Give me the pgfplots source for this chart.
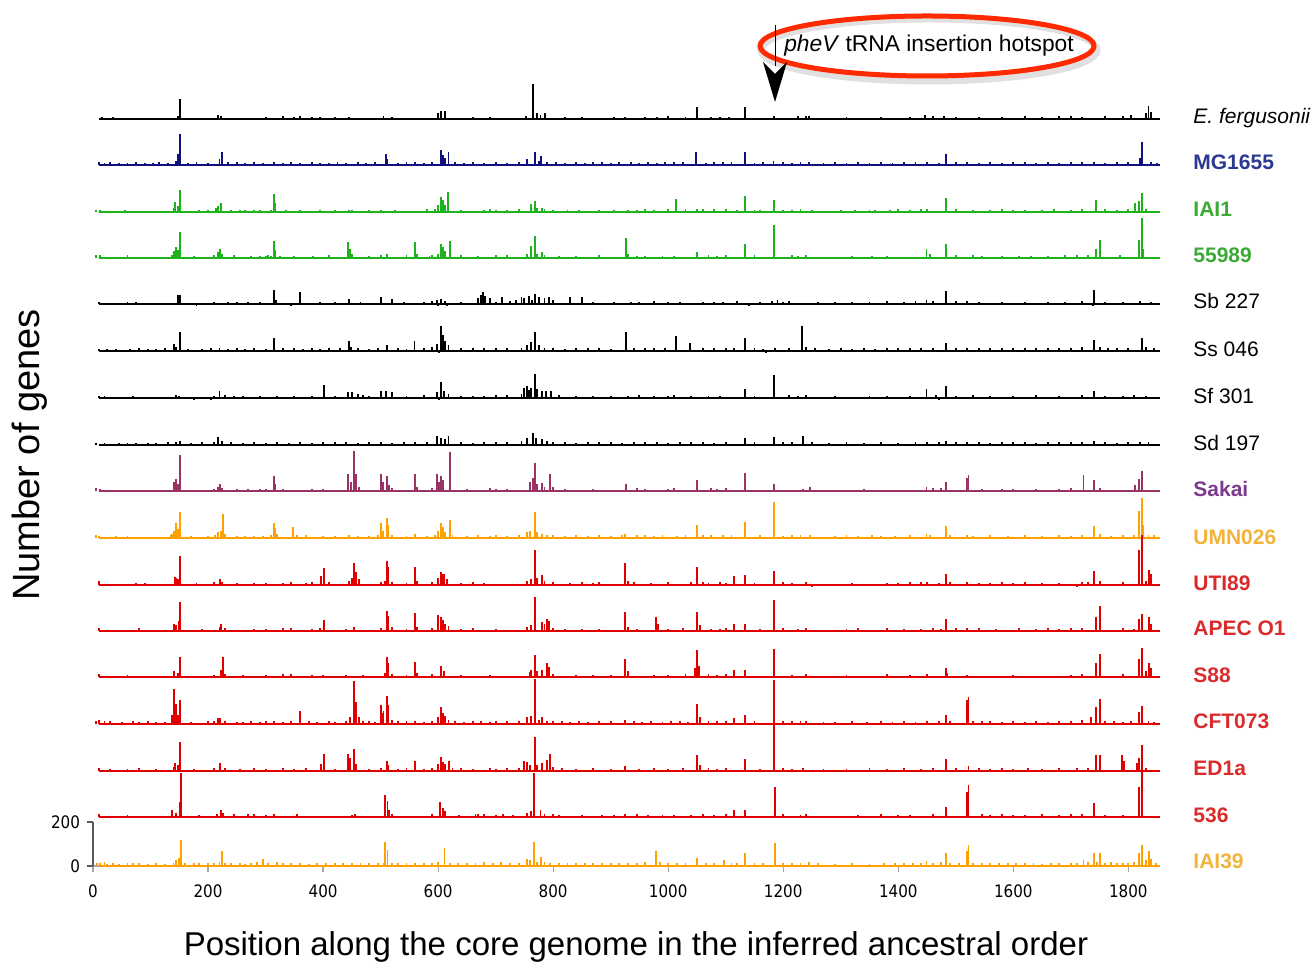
\documentclass[border=0pt]{standalone}
\usepackage{fontspec}
\setmainfont{Liberation Sans}
\newfontfamily\tickfont{DejaVu Sans}[FakeStretch=0.88]
\usepackage{pgfplots}
\pgfplotsset{compat=1.18}
\usetikzlibrary{calc}
\definecolor{cnavy}{HTML}{10107F}
\definecolor{cgreen}{HTML}{1DB31D}
\definecolor{cpurple}{HTML}{993366}
\definecolor{corange}{HTML}{FFA200}
\definecolor{cred}{HTML}{E00000}
\definecolor{lnavy}{HTML}{2B3990}
\definecolor{lgreen}{HTML}{3AAA35}
\definecolor{lpurple}{HTML}{7B3A8C}
\definecolor{lgold}{HTML}{F2B33D}
\definecolor{lred}{HTML}{D92B2B}
\definecolor{ellred}{HTML}{FF2A00}
\pgfplotsset{
  spk/.style={ycomb, mark=none, line width=0.95pt},
  base/.style={mark=none, line width=1pt},
}
\newcommand{\row}[3]{%
  \addplot[#1, base, yshift=#2] coordinates {(10,0) (1855,0)};
  \addplot[#1, spk, yshift=#2] coordinates {#3};}
\begin{document}
\begin{tikzpicture}
\begin{axis}[
  scale only axis, width=533.5pt, height=22pt,
  xmin=0, xmax=1855, ymin=0, ymax=200,
  axis x line=bottom, axis y line=left,
  x axis line style={-, draw=gray!70, line width=0.6pt},
  y axis line style={-, draw=black!65, line width=0.6pt},
  xtick={0,200,...,1800}, ytick={0,200},
  tick align=outside, major tick length=3pt,
  xtick style={draw=gray!70, line width=0.6pt},
  ytick style={draw=black!65, line width=0.6pt},
  tick label style={font=\tickfont\fontsize{8.6}{10}\selectfont},
  /pgf/number format/assume math mode=true,
  /pgf/number format/1000 sep={},
  xticklabel style={yshift=-3pt},
  clip=false,
]
\coordinate (O) at (axis cs:0,0);
% 16 E. fergusonii
\row{black}{373.5pt}{(15,8)(35,8)(148,15)(152,90)(217,20)(222,12)(300,10)(330,12)(350,10)(360,12)(380,10)(395,10)(420,10)(445,8)(505,12)(520,10)(600,25)(605,36)(612,36)(660,10)(690,10)(752,12)(765,157)(772,25)(778,20)(786,26)(820,10)(850,10)(905,10)(925,10)(960,10)(980,10)(1000,12)(1030,10)(1050,54)(1075,10)(1090,10)(1105,10)(1134,54)(1184,15)(1225,12)(1240,15)(1245,12)(1310,10)(1370,10)(1420,10)(1447,20)(1460,15)(1480,12)(1500,10)(1540,10)(1580,10)(1620,12)(1650,10)(1680,12)(1700,12)(1720,10)(1760,12)(1790,15)(1805,20)(1830,25)(1835,60)(1840,30)}
% 15 MG1655
\row{cnavy}{350.5pt}{(10,12)(20,10)(30,12)(45,10)(60,10)(75,12)(90,10)(105,10)(115,12)(130,10)(145,20)(148,50)(152,140)(165,10)(180,12)(200,10)(220,25)(224,58)(235,12)(250,15)(265,10)(280,12)(295,10)(315,12)(330,10)(345,12)(360,10)(380,12)(395,10)(410,10)(425,12)(440,10)(460,12)(475,10)(490,12)(510,50)(512,25)(530,10)(545,12)(560,15)(575,10)(590,12)(605,66)(608,45)(612,30)(618,58)(630,12)(645,10)(660,12)(680,10)(700,12)(720,10)(740,15)(755,25)(768,58)(775,20)(779,40)(790,15)(805,12)(820,10)(840,12)(855,10)(870,12)(885,15)(900,10)(915,12)(935,15)(950,10)(965,12)(980,10)(995,12)(1010,15)(1025,12)(1049,57)(1065,10)(1080,12)(1095,15)(1110,12)(1134,60)(1150,10)(1165,12)(1183,18)(1200,12)(1215,10)(1230,15)(1245,12)(1270,10)(1290,12)(1310,10)(1330,12)(1350,10)(1370,12)(1390,10)(1410,12)(1430,15)(1450,12)(1470,10)(1483,50)(1500,12)(1520,15)(1540,10)(1560,12)(1580,10)(1600,12)(1620,15)(1640,10)(1660,12)(1680,10)(1700,12)(1720,15)(1740,12)(1760,10)(1780,12)(1800,15)(1820,30)(1824,105)(1840,12)(1850,10)}
% 14 IAI1
\row{cgreen}{327pt}{(5,10)(12,10)(55,10)(140,20)(143,44)(148,25)(152,99)(185,10)(200,10)(214,20)(218,25)(222,39)(240,10)(255,10)(265,10)(280,10)(290,10)(310,10)(314,80)(317,40)(335,8)(360,8)(395,8)(420,10)(445,10)(450,10)(480,8)(500,10)(525,8)(580,12)(595,15)(600,30)(605,70)(608,55)(612,30)(617,91)(640,10)(680,10)(690,12)(700,10)(720,10)(740,15)(762,35)(768,52)(772,20)(780,20)(785,15)(800,10)(825,10)(845,10)(880,10)(905,10)(930,10)(945,10)(960,15)(975,10)(1000,12)(1014,60)(1030,12)(1050,12)(1060,15)(1080,12)(1100,15)(1120,10)(1134,73)(1150,10)(1160,10)(1184,54)(1200,10)(1215,10)(1230,12)(1250,10)(1300,10)(1325,10)(1350,10)(1360,10)(1385,10)(1400,12)(1420,10)(1440,15)(1450,15)(1483,62)(1500,15)(1530,10)(1560,10)(1580,12)(1600,10)(1620,10)(1650,10)(1670,12)(1700,10)(1720,15)(1743,54)(1760,12)(1780,10)(1800,12)(1812,40)(1818,50)(1824,86)(1830,15)}
% 13 55989
\row{cgreen}{304pt}{(5,12)(12,12)(60,12)(138,15)(141,30)(145,50)(148,35)(152,116)(175,10)(210,12)(218,25)(221,39)(224,20)(245,12)(275,10)(290,10)(300,10)(305,12)(310,10)(314,79)(317,35)(325,10)(350,10)(383,10)(410,12)(443,71)(447,40)(450,20)(480,10)(500,15)(511,20)(545,12)(560,71)(563,20)(585,10)(590,12)(600,20)(605,63)(608,50)(612,30)(620,79)(640,12)(670,10)(700,12)(720,15)(755,20)(762,55)(768,99)(772,20)(780,27)(785,15)(810,10)(840,10)(880,12)(927,89)(930,20)(945,10)(960,10)(990,10)(1010,10)(1050,27)(1070,12)(1085,10)(1100,12)(1134,62)(1150,12)(1184,150)(1215,12)(1225,10)(1240,15)(1320,10)(1355,10)(1380,10)(1449,40)(1455,20)(1483,62)(1500,12)(1530,12)(1545,10)(1580,10)(1610,10)(1630,10)(1660,10)(1690,12)(1710,12)(1730,15)(1743,40)(1751,80)(1785,12)(1818,80)(1823,182)(1826,40)}
% 12 Sb 227
\row{black}{281pt}{(10,8)(60,10)(75,8)(148,39)(152,39)(180,-8)(210,8)(235,10)(250,8)(270,10)(290,10)(314,63)(318,20)(345,-8)(360,55)(395,8)(420,10)(445,23)(465,8)(500,31)(520,23)(540,10)(575,10)(590,12)(598,18)(600,-10)(605,22)(612,15)(615,-10)(640,10)(670,25)(675,40)(678,55)(682,35)(690,25)(700,10)(711,31)(725,15)(735,20)(745,30)(750,25)(758,35)(763,20)(768,47)(775,30)(785,25)(792,30)(800,20)(830,31)(850,31)(870,10)(905,10)(935,10)(950,10)(975,12)(1000,10)(1020,10)(1060,8)(1080,10)(1095,10)(1120,12)(1140,-8)(1160,10)(1180,15)(1190,20)(1200,10)(1210,15)(1260,8)(1290,10)(1320,8)(1350,10)(1380,12)(1410,10)(1430,12)(1449,20)(1460,12)(1483,57)(1500,15)(1520,15)(1525,-6)(1540,10)(1580,10)(1620,10)(1660,10)(1690,10)(1720,15)(1738,-8)(1741,65)(1760,10)(1790,10)(1820,15)(1840,10)}
% 11 Ss 046
\row{black}{257.5pt}{(10,10)(25,8)(30,-6)(40,8)(65,10)(80,12)(95,10)(110,10)(125,12)(141,34)(145,20)(152,86)(165,10)(170,-6)(190,10)(205,12)(220,15)(235,10)(250,12)(265,10)(280,12)(300,10)(314,58)(330,12)(350,15)(365,10)(380,12)(395,10)(410,12)(430,15)(445,47)(448,20)(460,12)(480,10)(495,12)(511,25)(530,12)(545,10)(559,47)(575,15)(590,20)(598,30)(601,-8)(605,115)(608,71)(612,45)(618,25)(640,12)(660,15)(680,12)(700,15)(720,12)(745,15)(755,25)(762,39)(768,86)(775,25)(785,15)(800,12)(820,10)(840,12)(860,15)(880,12)(900,10)(927,86)(940,15)(960,12)(975,15)(995,12)(1014,70)(1038,36)(1060,12)(1080,15)(1100,12)(1115,15)(1134,60)(1150,12)(1165,10)(1170,-8)(1185,12)(1210,15)(1233,112)(1240,20)(1255,12)(1280,10)(1300,12)(1320,10)(1340,12)(1360,10)(1380,12)(1400,15)(1420,12)(1440,15)(1460,12)(1483,36)(1500,15)(1520,12)(1540,15)(1560,12)(1580,15)(1600,12)(1620,15)(1640,12)(1660,15)(1680,12)(1700,15)(1720,20)(1741,49)(1750,20)(1765,15)(1780,12)(1800,15)(1823,60)(1830,20)(1845,12)}
% 10 Sf 301
\row{black}{234pt}{(10,10)(20,8)(70,8)(145,15)(150,10)(175,-8)(205,-8)(210,10)(220,30)(230,12)(245,10)(260,10)(290,10)(305,-6)(320,10)(350,8)(380,10)(401,60)(420,10)(444,25)(450,25)(460,20)(470,15)(480,10)(500,30)(510,30)(520,25)(545,10)(575,12)(598,25)(601,-8)(605,71)(610,30)(618,20)(640,10)(660,10)(680,10)(700,12)(720,15)(745,20)(750,45)(754,55)(758,35)(762,45)(768,110)(772,40)(780,30)(787,30)(797,30)(810,12)(840,10)(870,8)(900,8)(930,10)(950,12)(975,10)(1000,10)(1010,12)(1040,10)(1070,10)(1090,10)(1134,41)(1150,10)(1184,105)(1210,12)(1225,10)(1240,15)(1260,-6)(1290,8)(1350,10)(1380,8)(1420,10)(1449,41)(1465,15)(1470,-8)(1483,54)(1500,10)(1520,-6)(1530,12)(1560,10)(1600,10)(1640,12)(1680,10)(1720,12)(1741,30)(1760,10)(1790,10)(1810,12)(1830,10)}
% 9 Sd 197
\row{black}{210.5pt}{(5,10)(20,8)(45,8)(60,10)(75,8)(95,10)(110,8)(130,12)(145,15)(152,20)(170,10)(190,12)(210,15)(218,36)(225,20)(240,12)(260,10)(280,12)(300,10)(320,12)(340,10)(360,12)(380,10)(400,12)(420,15)(440,12)(460,10)(480,12)(500,15)(520,10)(540,12)(560,15)(580,12)(598,42)(605,30)(612,25)(618,39)(640,12)(660,10)(680,12)(700,15)(720,12)(745,20)(755,30)(765,55)(770,30)(780,25)(790,20)(800,15)(820,12)(840,10)(860,12)(880,15)(900,12)(920,10)(940,12)(960,15)(980,12)(1000,10)(1020,12)(1040,15)(1060,12)(1080,10)(1100,12)(1134,32)(1150,12)(1184,36)(1200,15)(1215,12)(1235,40)(1250,12)(1280,10)(1310,12)(1340,10)(1370,12)(1400,10)(1430,12)(1450,15)(1470,12)(1483,20)(1500,12)(1520,15)(1540,12)(1560,10)(1580,12)(1600,15)(1620,12)(1640,10)(1660,12)(1680,15)(1700,12)(1720,15)(1740,20)(1760,12)(1780,10)(1800,12)(1820,15)(1835,12)}
% 8 Sakai
\row{cpurple}{187.5pt}{(5,12)(12,10)(141,39)(145,55)(148,30)(152,164)(210,10)(218,20)(221,30)(224,15)(250,10)(270,10)(290,10)(300,8)(314,70)(317,30)(330,10)(380,10)(400,10)(444,78)(448,40)(454,182)(458,78)(462,20)(500,78)(504,40)(511,70)(515,25)(520,15)(560,78)(563,20)(590,15)(598,78)(602,40)(605,70)(608,50)(620,177)(650,10)(690,15)(700,10)(720,10)(759,39)(765,60)(768,125)(772,30)(780,36)(785,20)(795,78)(800,20)(820,10)(870,10)(927,30)(945,15)(960,10)(1000,10)(1010,15)(1050,49)(1075,12)(1085,10)(1100,12)(1134,81)(1184,30)(1235,10)(1246,18)(1340,10)(1449,18)(1460,15)(1475,12)(1483,41)(1520,60)(1522,73)(1545,10)(1580,10)(1600,10)(1640,10)(1680,10)(1700,15)(1722,73)(1741,49)(1750,15)(1812,25)(1818,55)(1823,89)}
% 7 UMN026
\row{corange}{164pt}{(5,12)(10,10)(40,10)(60,10)(135,15)(138,20)(141,30)(145,70)(148,40)(152,118)(170,10)(200,10)(212,15)(218,25)(222,30)(226,107)(230,20)(250,10)(265,10)(280,10)(295,10)(310,15)(314,68)(317,45)(320,20)(348,52)(355,15)(370,15)(400,10)(420,10)(445,15)(460,10)(480,10)(495,15)(500,70)(504,30)(511,89)(513,60)(520,15)(545,10)(560,20)(580,10)(595,15)(600,30)(605,68)(608,50)(612,25)(620,80)(625,15)(650,10)(670,12)(690,10)(700,12)(720,10)(740,12)(755,25)(759,30)(768,118)(772,25)(780,20)(790,15)(800,12)(820,10)(840,12)(860,10)(880,15)(900,10)(920,12)(925,20)(945,12)(960,15)(975,10)(990,12)(1015,10)(1030,12)(1050,60)(1060,12)(1075,15)(1095,12)(1110,15)(1134,73)(1160,12)(1184,165)(1200,10)(1215,12)(1230,15)(1246,15)(1290,10)(1310,12)(1330,10)(1355,12)(1370,10)(1395,10)(1420,12)(1449,20)(1455,15)(1483,54)(1490,12)(1520,12)(1530,10)(1560,12)(1590,10)(1620,12)(1650,10)(1680,12)(1700,10)(1720,15)(1741,54)(1750,20)(1770,10)(1790,12)(1810,15)(1818,122)(1823,182)(1826,60)(1835,15)(1845,12)}
% 6 UTI89
\row{cred}{140.5pt}{(10,20)(75,10)(90,10)(142,35)(145,30)(147,25)(152,130)(180,10)(210,15)(221,27)(225,15)(250,10)(280,10)(300,10)(330,10)(345,12)(370,10)(380,12)(397,40)(401,75)(410,12)(445,20)(450,30)(454,102)(458,59)(462,25)(500,15)(508,20)(511,111)(513,82)(520,15)(545,10)(560,83)(563,20)(590,12)(600,30)(605,60)(608,50)(610,49)(615,25)(640,10)(660,12)(680,10)(755,20)(762,27)(768,160)(772,30)(780,44)(785,20)(800,12)(830,10)(850,12)(870,10)(880,12)(925,102)(930,20)(940,12)(970,10)(1000,12)(1040,12)(1050,82)(1060,15)(1070,10)(1090,12)(1100,10)(1114,41)(1134,45)(1150,10)(1184,62)(1200,12)(1215,10)(1240,12)(1250,-8)(1320,10)(1380,10)(1400,10)(1420,12)(1440,12)(1450,15)(1470,10)(1483,50)(1490,12)(1520,12)(1540,10)(1560,10)(1580,12)(1600,10)(1620,12)(1650,10)(1680,10)(1710,-8)(1720,12)(1730,15)(1741,62)(1750,20)(1790,12)(1818,160)(1823,225)(1830,20)(1836,70)(1840,50)}
% 5 APEC O1
\row{cred}{117.5pt}{(10,12)(80,12)(141,30)(145,25)(150,44)(152,130)(190,10)(220,20)(222,30)(230,12)(280,10)(300,10)(330,12)(345,12)(380,10)(395,12)(401,52)(440,10)(454,20)(500,15)(511,91)(513,68)(520,20)(545,10)(560,83)(563,20)(590,15)(600,72)(605,64)(608,49)(612,30)(618,23)(640,10)(660,12)(700,10)(755,20)(762,27)(768,155)(780,39)(785,30)(789,55)(792,44)(800,12)(820,10)(850,10)(880,10)(925,86)(930,20)(945,10)(979,62)(982,30)(1000,10)(1025,12)(1050,86)(1055,25)(1075,10)(1090,10)(1100,12)(1114,34)(1134,34)(1160,10)(1184,140)(1200,12)(1225,10)(1240,12)(1310,10)(1330,12)(1380,12)(1410,10)(1440,10)(1460,12)(1475,10)(1483,54)(1500,12)(1520,12)(1540,12)(1570,10)(1610,15)(1640,10)(1660,12)(1680,10)(1700,12)(1720,15)(1743,62)(1751,115)(1790,12)(1810,10)(1818,55)(1823,75)(1836,65)(1840,30)}
% 4 S88
\row{cred}{94.5pt}{(10,12)(60,10)(141,25)(148,20)(152,91)(210,10)(222,30)(226,91)(230,15)(260,10)(300,10)(330,12)(345,12)(380,10)(400,10)(440,10)(470,10)(508,20)(511,91)(513,64)(520,15)(545,10)(560,70)(563,20)(590,12)(605,52)(610,25)(640,10)(690,10)(759,23)(762,30)(768,102)(772,25)(780,32)(789,62)(792,45)(800,12)(840,10)(870,10)(900,10)(925,82)(930,25)(975,10)(1000,10)(1030,12)(1046,40)(1050,123)(1054,50)(1070,12)(1085,10)(1100,12)(1114,32)(1134,32)(1184,125)(1215,10)(1240,12)(1310,10)(1380,12)(1420,10)(1450,12)(1483,41)(1485,20)(1520,10)(1600,10)(1700,10)(1720,12)(1743,65)(1751,106)(1790,12)(1818,80)(1823,134)(1830,25)(1836,65)(1840,40)}
% 3 CFT073
\row{cred}{71pt}{(5,15)(10,20)(20,12)(30,12)(50,10)(70,12)(80,10)(95,12)(110,10)(125,10)(138,40)(141,158)(143,90)(145,91)(148,40)(150,36)(152,110)(170,10)(200,12)(210,15)(218,25)(221,27)(230,15)(250,10)(260,10)(275,12)(290,10)(300,12)(315,12)(330,10)(345,12)(360,60)(375,12)(390,10)(410,12)(420,10)(440,15)(447,30)(454,195)(457,100)(462,30)(470,15)(480,12)(490,10)(500,88)(502,50)(505,60)(511,129)(513,86)(520,20)(530,12)(545,12)(560,12)(575,10)(590,15)(600,30)(605,79)(608,52)(612,35)(618,20)(630,12)(645,10)(660,15)(675,12)(690,10)(700,15)(720,12)(740,15)(755,30)(762,35)(768,205)(775,20)(780,30)(790,15)(800,12)(815,12)(830,10)(845,12)(860,10)(880,15)(900,12)(925,20)(940,12)(955,10)(970,12)(990,10)(1005,12)(1020,15)(1035,10)(1050,89)(1055,30)(1070,15)(1085,12)(1100,15)(1114,25)(1134,41)(1150,12)(1184,200)(1200,12)(1215,15)(1230,12)(1240,15)(1270,10)(1290,10)(1320,12)(1345,10)(1370,12)(1390,10)(1410,12)(1430,10)(1450,15)(1470,12)(1483,41)(1490,12)(1519,110)(1522,123)(1530,15)(1545,12)(1560,12)(1580,10)(1600,12)(1620,10)(1640,12)(1660,10)(1680,12)(1700,15)(1720,20)(1735,30)(1743,78)(1751,114)(1760,15)(1775,12)(1790,10)(1805,12)(1818,55)(1823,83)(1835,12)(1845,10)}
% 2 ED1a
\row{cred}{47.5pt}{(10,12)(30,10)(60,10)(80,12)(110,10)(140,20)(143,35)(148,25)(152,130)(175,10)(210,12)(221,35)(230,12)(255,10)(280,12)(300,10)(330,12)(350,10)(370,12)(397,30)(401,75)(420,10)(444,75)(447,59)(454,102)(458,30)(480,10)(500,15)(511,44)(513,25)(530,10)(545,12)(560,44)(575,10)(590,12)(600,30)(605,64)(608,40)(612,30)(619,44)(625,15)(640,12)(660,10)(690,12)(700,10)(720,12)(740,15)(750,44)(755,40)(760,25)(768,154)(772,25)(780,36)(789,49)(795,75)(800,20)(815,12)(840,10)(870,12)(900,10)(925,23)(950,10)(975,12)(1000,10)(1025,12)(1050,73)(1055,25)(1070,12)(1085,10)(1100,12)(1134,54)(1160,10)(1184,410)(1200,12)(1215,10)(1235,12)(1270,10)(1310,10)(1350,12)(1380,10)(1410,12)(1440,10)(1460,12)(1483,54)(1500,12)(1522,23)(1540,12)(1560,10)(1580,12)(1600,10)(1625,12)(1650,10)(1680,12)(1710,12)(1730,15)(1743,73)(1751,73)(1789,73)(1792,45)(1815,35)(1818,60)(1823,118)(1830,15)}
% 1 536
\row{cred}{24.5pt}{(10,12)(60,10)(138,30)(145,20)(151,68)(153,200)(185,10)(216,15)(222,30)(226,20)(245,12)(270,12)(280,12)(300,10)(315,12)(355,12)(450,10)(455,12)(508,99)(512,72)(515,30)(520,15)(590,12)(604,68)(608,42)(612,25)(637,10)(665,12)(670,15)(680,12)(700,10)(713,15)(730,10)(755,20)(762,25)(766,200)(778,30)(785,15)(800,12)(810,10)(850,10)(885,10)(905,10)(925,12)(945,12)(965,10)(990,10)(1010,10)(1040,10)(1060,12)(1080,10)(1100,12)(1114,32)(1134,32)(1186,135)(1200,12)(1230,10)(1240,12)(1330,10)(1370,12)(1400,10)(1420,10)(1460,12)(1483,45)(1519,113)(1522,145)(1545,12)(1560,10)(1580,12)(1600,10)(1620,10)(1650,12)(1680,10)(1700,12)(1720,12)(1741,65)(1760,10)(1790,10)(1818,137)(1823,215)}
% 0 IAI39
\row{corange}{0pt}{(7,15)(12,12)(20,20)(25,10)(35,12)(45,10)(60,12)(70,15)(80,12)(95,10)(110,12)(125,10)(140,15)(145,25)(149,38)(153,120)(160,15)(175,12)(185,12)(200,15)(210,12)(220,20)(225,69)(230,15)(240,12)(255,15)(265,10)(275,15)(285,20)(295,31)(305,15)(320,20)(330,12)(345,15)(360,12)(375,10)(390,15)(405,12)(420,15)(435,12)(450,15)(465,12)(480,15)(495,12)(505,15)(508,111)(512,72)(520,15)(530,12)(545,15)(560,12)(575,15)(590,15)(600,20)(611,80)(620,15)(635,12)(650,15)(665,12)(680,20)(695,15)(710,20)(725,12)(740,15)(755,30)(760,25)(766,111)(772,20)(779,42)(785,20)(795,15)(810,12)(825,15)(840,12)(855,15)(870,12)(885,15)(900,12)(915,15)(930,12)(945,15)(960,20)(979,66)(985,20)(1000,15)(1015,12)(1030,15)(1050,37)(1065,12)(1080,15)(1097,29)(1110,15)(1120,12)(1134,58)(1150,12)(1165,15)(1186,105)(1200,15)(1215,12)(1230,15)(1245,20)(1260,12)(1290,10)(1320,12)(1350,10)(1375,15)(1395,12)(1410,15)(1425,12)(1440,15)(1449,22)(1460,15)(1475,20)(1483,58)(1490,15)(1505,12)(1519,66)(1522,95)(1530,15)(1545,12)(1560,15)(1575,12)(1590,15)(1605,12)(1620,15)(1635,12)(1650,10)(1665,12)(1680,15)(1700,12)(1710,15)(1722,29)(1730,20)(1741,58)(1745,20)(1751,58)(1760,15)(1770,20)(1780,15)(1790,12)(1800,15)(1810,20)(1818,58)(1823,95)(1830,25)(1836,66)(1840,30)(1848,15)}
\end{axis}
% bounding box
\path (O) ++(-46.5pt,-50.5pt) rectangle ++(656pt,483.5pt);
% row labels
\begin{scope}[every node/.style={anchor=west, inner sep=0pt, text height=7.5pt, text depth=0pt, font=\fontsize{10.5}{12}\selectfont}]
\node at ($(O)+(550pt,375pt)$) {\itshape E. fergusonii};
\node[text=lnavy] at ($(O)+(550pt,352pt)$) {\bfseries MG1655};
\node[text=lgreen] at ($(O)+(550pt,328.5pt)$) {\bfseries IAI1};
\node[text=lgreen] at ($(O)+(550pt,305.5pt)$) {\bfseries 55989};
\node at ($(O)+(550pt,282.5pt)$) {Sb 227};
\node at ($(O)+(550pt,258.5pt)$) {Ss 046};
\node at ($(O)+(550pt,235pt)$) {Sf 301};
\node at ($(O)+(550pt,211.5pt)$) {Sd 197};
\node[text=lpurple] at ($(O)+(550pt,188.5pt)$) {\bfseries Sakai};
\node[text=lgold] at ($(O)+(550pt,164.5pt)$) {\bfseries UMN026};
\node[text=lred] at ($(O)+(550pt,141.5pt)$) {\bfseries UTI89};
\node[text=lred] at ($(O)+(550pt,119pt)$) {\bfseries APEC O1};
\node[text=lred] at ($(O)+(550pt,95.5pt)$) {\bfseries S88};
\node[text=lred] at ($(O)+(550pt,72.5pt)$) {\bfseries CFT073};
\node[text=lred] at ($(O)+(550pt,49pt)$) {\bfseries ED1a};
\node[text=lred] at ($(O)+(550pt,25.5pt)$) {\bfseries 536};
\node[text=lgold] at ($(O)+(550pt,2.5pt)$) {\bfseries IAI39};
\end{scope}
% axis titles
\node[rotate=90, font=\fontsize{19}{22}\selectfont] at ($(O)+(-31.5pt,205.5pt)$) {Number of genes};
\node[font=\fontsize{16.5}{20}\selectfont] at ($(O)+(271.5pt,-40.5pt)$) {Position along the core genome in the inferred ancestral order};
% annotation
\draw[black, opacity=0.12, line width=3.5pt] ($(O)+(418pt,408pt)$) ellipse [x radius=84pt, y radius=15.5pt];
\draw[ellred, line width=2.5pt] ($(O)+(417pt,410pt)$) ellipse [x radius=83.5pt, y radius=15pt];
\node[font=\fontsize{11.4}{13}\selectfont] at ($(O)+(418pt,410pt)$) {\textit{pheV} tRNA insertion hotspot};
\draw[black, line width=0.5pt] ($(O)+(341pt,420.5pt)$) -- ($(O)+(341pt,400pt)$);
\fill[black] ($(O)+(335pt,402pt)$) -- ($(O)+(341pt,382pt)$) -- ($(O)+(347pt,402pt)$) -- ($(O)+(341pt,396pt)$) -- cycle;
\end{tikzpicture}
\end{document}
